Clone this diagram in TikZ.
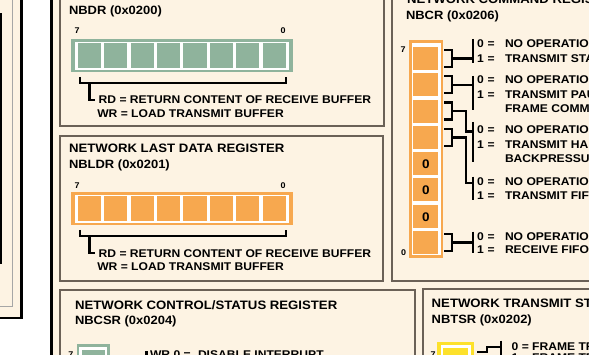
\documentclass[tikz,border=0pt]{standalone}
\usepackage{fontspec}
\setmainfont{Liberation Sans}[FakeStretch=1.08]
\definecolor{cream}{HTML}{FDF3E3}
\definecolor{boxline}{HTML}{6B6157}
\definecolor{regG}{HTML}{8FB39C}
\definecolor{regO}{HTML}{F7A84F}
\definecolor{regY}{HTML}{FDE12B}
\newcommand\hregister[2]{%
  \fill[#2] (71,39+#1) rectangle (293,72+#1);
  \fill[white] (75,41.7+#1) rectangle (288.5,70+#1);
  \foreach \k in {0,...,7} \fill[#2] ({77.7+26.4*\k},43.3+#1) rectangle ++(23.3,24.4);
  \draw[brk] (80.3,77+#1) -- (80.3,83+#1) -- (286,83+#1) -- (286,77+#1);
  \draw[brk] (89.5,83+#1) -- (89.5,100+#1) -- (95,100+#1);
}
\newcommand\eqsym{\hspace{4pt}=}
\begin{document}
\begin{tikzpicture}[x=1pt,y=-1pt,
  txt/.style={inner sep=0pt, outer sep=0pt, anchor=base west, text=black},
  ttl/.style={txt, font=\bfseries\fontsize{12.2}{14}\selectfont},
  sub/.style={txt, font=\bfseries\fontsize{12}{14}\selectfont},
  body/.style={txt, font=\bfseries\fontsize{11.2}{13}\selectfont},
  cmd/.style={txt, font=\bfseries\fontsize{11.2}{13}\selectfont},
  bitn/.style={txt, font=\bfseries\fontsize{8.3}{10}\selectfont},
  cellz/.style={inner sep=0pt, anchor=center, font=\bfseries\fontsize{12.5}{14}\selectfont},
  boxs/.style={draw=boxline, line width=1.2pt, fill=cream},
  brk/.style={draw=black, line width=2.3pt, line join=miter},
]
\useasboundingbox (0,0) rectangle (589,355);
\clip (0,0) rectangle (589,355);
\fill[cream] (0,0) rectangle (589,355);
\fill[white] (0,0) rectangle (51,355);
\fill[cream] (0,0) rectangle (21,318);
\draw[gray!70, line width=0.8pt] (-2,306) -- (12,306) -- (12,-2);
\draw[black, line width=2.2pt] (-2,318) -- (21.5,318) -- (21.5,-2);
\draw[black, line width=2pt] (-3,14.5) -- (1.2,14.5) -- (1.2,263) -- (-3,263);
\draw[black, line width=2.5pt] (51.3,-2) -- (51.3,360);

% boxes
\draw[boxs] (60,-10) rectangle (384,126);
\draw[boxs] (60,136) rectangle (383,281);
\draw[boxs] (60,290) rectangle (415,370);
\draw[boxs] (423,289) rectangle (600,370);
\draw[boxs] (392,-10) rectangle (600,281);

% NBDR
\hregister{0}{regG}
\node[sub] (nbdr) at (69,15) {NBDR (0x0200)};
\node[bitn] (nbdr7) at (74.5,34) {7};
\node[bitn] (nbdr0) at (280.7,34) {0};
\node[body] (nbdrrd) at (98.7,104) {RD = RETURN CONTENT OF RECEIVE BUFFER};
\node[body] (nbdrwr) at (97.3,118) {WR = LOAD TRANSMIT BUFFER};

% NBLDR
\hregister{153}{regO}
\node[ttl] (nbldrt) at (69,152.7) {NETWORK LAST DATA REGISTER};
\node[sub] (nbldr) at (69,168.3) {NBLDR (0x0201)};
\node[bitn] (nbldr7) at (74.5,189) {7};
\node[bitn] (nbldr0) at (280.7,189) {0};
\node[body] (nbldrrd) at (98.7,257.5) {RD = RETURN CONTENT OF RECEIVE BUFFER};
\node[body] (nbldrwr) at (97.3,271) {WR = LOAD TRANSMIT BUFFER};

% NBCSR
\node[ttl] (nbcsrt) at (75,309) {NETWORK CONTROL/STATUS REGISTER};
\node[sub] (nbcsr) at (75,325) {NBCSR (0x0204)};
\node[bitn] (nbcsr7) at (68.3,357) {7};
\fill[regG] (77,344) rectangle (110,370);
\fill[white] (79.3,347) rectangle (107.3,370);
\fill[regG] (82,350) rectangle (105,370);
\draw[brk] (146.5,351) -- (146.5,365);
\node[body] (nbcsrwr) at (150,358.7) {WR 0 =};
\node[body] (nbcsrdis) at (198,358.7) {DISABLE INTERRUPT};

% NBTSR
\node[ttl] (nbtsrt) at (431.7,307.5) {NETWORK TRANSMIT STATUS REGISTER};
\node[sub] (nbtsr) at (431.7,323.5) {NBTSR (0x0202)};
\node[bitn] (nbtsr7) at (430.5,357) {7};
\fill[regY] (437,342) rectangle (474,370);
\fill[white] (440.7,345) rectangle (470.7,370);
\fill[regY] (443.3,348) rectangle (468.3,370);
\draw[brk] (477,352.3) -- (487.3,352.3) -- (487.3,346.7) -- (501.3,346.7);
\draw[brk] (501.3,340.7) -- (501.3,365);
\node[body] (nbtsr0) at (511.7,350) {0 = FRAME TRANSMITTED};
\node[body] (nbtsr1) at (511.7,361.5) {1 = FRAME TRANSMIT PENDING};

% NBCR
\node[ttl] (nbcrt) at (407,4) {NETWORK COMMAND REGISTER};
\node[sub] (nbcr) at (406,20) {NBCR (0x0206)};
\node[bitn] (nbcr7) at (400.7,52.5) {7};
\node[bitn] (nbcr0) at (401,255.7) {0};
\fill[regO] (409,40) rectangle (443,258);
\fill[white] (412,43) rectangle (440.7,255.5);
\foreach \k in {0,...,7} \fill[regO] (413.3,{47+26.3*\k}) rectangle ++(25,23);
\foreach \k in {4,5,6} \node[cellz] (cz\k) at (425.8,{47+26.3*\k+12}) {0};
\foreach \k in {0,1,2,3,7} \draw[brk] (444,{50+26.3*\k}) -- (452,{50+26.3*\k}) -- (452,{67+26.3*\k}) -- (444,{67+26.3*\k});
% links
\draw[brk] (452,58.5) -- (473,58.5);
\draw[brk] (452,84.8) -- (473,84.8);
\draw[brk] (452,111.1) -- (466,111.1) -- (466,131.5) -- (473,131.5);
\draw[brk] (452,137.4) -- (466,137.4) -- (466,183.3) -- (473,183.3);
\draw[brk] (452,242.6) -- (473,242.6);
% bars
\draw[brk] (473,39) -- (473,63);
\draw[brk] (473,76) -- (473,110);
\draw[brk] (473,122) -- (473,162);
\draw[brk] (473,176.7) -- (473,200);
\draw[brk] (473,231.7) -- (473,253.3);
% texts
\node[cmd] (g1a) at (477,47.7) {0\eqsym};
\node[cmd] (g1at) at (505,47.7) {NO OPERATION};
\node[cmd] (g1b) at (477,62.7) {1\eqsym};
\node[cmd] (g1bt) at (505,62.7) {TRANSMIT START};
\node[cmd] (g2a) at (477,84) {0\eqsym};
\node[cmd] (g2at) at (505,84) {NO OPERATION};
\node[cmd] (g2b) at (477,98.3) {1\eqsym};
\node[cmd] (g2bt) at (505,98.3) {TRANSMIT PAUSE};
\node[cmd] (g2c) at (505,112.3) {FRAME COMMAND};
\node[cmd] (g3a) at (477,133.3) {0\eqsym};
\node[cmd] (g3at) at (505,133.3) {NO OPERATION};
\node[cmd] (g3b) at (477,148.3) {1\eqsym};
\node[cmd] (g3bt) at (505,148.3) {TRANSMIT HALF-DUPLEX};
\node[cmd] (g3c) at (505,162.7) {BACKPRESSURE};
\node[cmd] (g4a) at (477,185.7) {0\eqsym};
\node[cmd] (g4at) at (505,185.7) {NO OPERATION};
\node[cmd] (g4b) at (477,199.3) {1\eqsym};
\node[cmd] (g4bt) at (505,199.3) {TRANSMIT FIFO FLUSH};
\node[cmd] (g5a) at (477,240.7) {0\eqsym};
\node[cmd] (g5at) at (505,240.7) {NO OPERATION};
\node[cmd] (g5b) at (477,253.3) {1\eqsym};
\node[cmd] (g5bt) at (505,253.3) {RECEIVE FIFO FLUSH};
\end{tikzpicture}
\end{document}
